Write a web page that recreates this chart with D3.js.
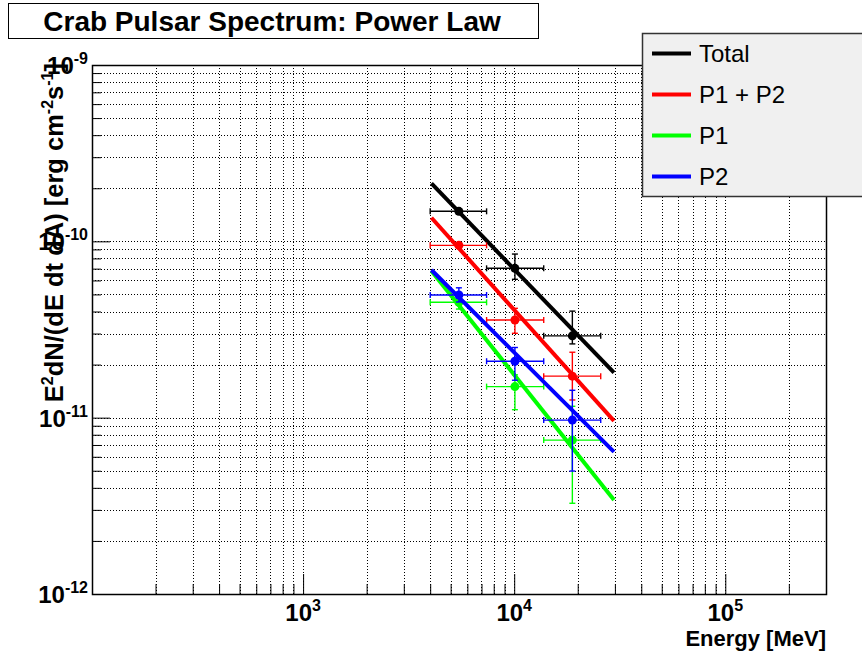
<!DOCTYPE html>
<html>
<head>
<meta charset="utf-8">
<script src="https://cdn.jsdelivr.net/npm/d3@7"></script>
<style>
body { margin: 0; background: #fff; }
svg { display: block; font-family: "Liberation Sans", Arial, sans-serif; }
</style>
</head>
<body>
<script>
// energy bins (MeV)
const binLow    = [4000, 7400, 13800];
const binHigh   = [7400, 13800, 25700];
const binCenter = [5470, 10080, 18860];

// E^2 dN/dE points with upper / lower error
const totalFlux  = [1.48e-10, 7.03e-11, 2.91e-11];
const totalErrHi = [1.53e-10, 8.47e-11, 4.02e-11];
const totalErrLo = [1.43e-10, 6.09e-11, 2.62e-11];

const p12Flux  = [9.49e-11, 3.58e-11, 1.72e-11];
const p12ErrHi = [9.80e-11, 4.17e-11, 2.35e-11];
const p12ErrLo = [9.20e-11, 3.01e-11, 1.26e-11];

const p1Flux  = [4.51e-11, 1.50e-11, 7.46e-12];
const p1ErrHi = [4.90e-11, 1.75e-11, 1.16e-11];
const p1ErrLo = [4.13e-11, 1.11e-11, 3.27e-12];

const p2Flux  = [4.96e-11, 2.09e-11, 9.69e-12];
const p2ErrHi = [5.45e-11, 2.50e-11, 1.43e-11];
const p2ErrLo = [4.53e-11, 1.63e-11, 4.98e-12];

// power law fits, value at both ends of fitRange
const fitRange = [4055, 29700];
const totalFit = [2.13e-10, 1.80e-11];
const p12Fit   = [1.36e-10, 9.6e-12];
const p1Fit    = [6.79e-11, 3.41e-12];
const p2Fit    = [6.88e-11, 6.4e-12];

const seriesNames = ["Total", "P1 + P2", "P1", "P2"];
const xMajorTicks = [1e3, 1e4, 1e5];
const xTickLabels = ["3", "4", "5"];
const yMajorTicks = [1e-12, 1e-11, 1e-10, 1e-9];
const yTickLabels = ["-12", "-11", "-10", "-9"];

const colors = ["#000000", "#ff0000", "#00ff00", "#0000ff"];

const series = [
    {name: seriesNames[0], color: colors[0], flux: totalFlux, hi: totalErrHi, lo: totalErrLo, fit: totalFit},
    {name: seriesNames[1], color: colors[1], flux: p12Flux, hi: p12ErrHi, lo: p12ErrLo, fit: p12Fit},
    {name: seriesNames[2], color: colors[2], flux: p1Flux, hi: p1ErrHi, lo: p1ErrLo, fit: p1Fit},
    {name: seriesNames[3], color: colors[3], flux: p2Flux, hi: p2ErrHi, lo: p2ErrLo, fit: p2Fit}
];

drawChart(series);

function drawChart(series){
    const margin = {top: 65, right: 36, bottom: 57, left: 92},
        width  = 862 - margin.left - margin.right,
        height = 651 - margin.top - margin.bottom;

    const svg = d3.select("body")
        .append("svg")
        .attr("width", 862)
        .attr("height", 651);

    const chart = svg.append("g")
        .attr("transform", "translate(" + margin.left + "," + margin.top + ")");

    const xScale = d3.scaleLog().domain([100, 3e5]).range([0, width]);
    const yScale = d3.scaleLog().domain([1e-12, 1e-9]).range([height, 0]);

    const isMajor = v => Math.abs(Math.log10(v) - Math.round(Math.log10(v))) < 1e-6;
    const px = v => Math.round(v) + 0.5;

    // dotted grid
    const grid = chart.append("g")
        .attr("stroke", "#000")
        .attr("stroke-width", 1)
        .attr("stroke-dasharray", "1,2")
        .attr("shape-rendering", "crispEdges");

    grid.selectAll(".vgrid")
        .data(xScale.ticks())
        .enter()
        .append("line")
        .attr("class", "vgrid")
        .attr("x1", d => px(xScale(d)))
        .attr("x2", d => px(xScale(d)))
        .attr("y1", 0)
        .attr("y2", height);

    grid.selectAll(".hgrid")
        .data(yScale.ticks())
        .enter()
        .append("line")
        .attr("class", "hgrid")
        .attr("x1", 0)
        .attr("x2", width)
        .attr("y1", d => px(yScale(d)))
        .attr("y2", d => px(yScale(d)));

    // ticks (inside the frame)
    const xMinor = xScale.ticks().filter(d => !isMajor(d));
    const yMinor = yScale.ticks().filter(d => !isMajor(d));

    [[xMajorTicks, 20], [xMinor, 10]].forEach(function(t){
        chart.append("g")
            .attr("transform", "translate(0," + height + ")")
            .call(d3.axisBottom(xScale).tickValues(t[0]).tickSize(-t[1]).tickFormat(""))
            .call(g => g.select(".domain").remove());
    });
    [[yMajorTicks, 18], [yMinor, 9]].forEach(function(t){
        chart.append("g")
            .call(d3.axisLeft(yScale).tickValues(t[0]).tickSize(-t[1]).tickFormat(""))
            .call(g => g.select(".domain").remove());
    });

    // frame
    chart.append("rect")
        .attr("x", 0.5)
        .attr("y", 0.5)
        .attr("width", width)
        .attr("height", height)
        .attr("fill", "none")
        .attr("stroke", "#000")
        .attr("stroke-width", 1.5);

    // tick labels
    const xl = chart.append("g")
        .selectAll(".xlabel")
        .data(xMajorTicks)
        .enter()
        .append("text")
        .attr("class", "xlabel")
        .attr("x", d => xScale(d))
        .attr("y", height + 27)
        .attr("text-anchor", "middle")
        .attr("font-weight", "bold")
        .attr("font-size", "24px");
    xl.append("tspan").text("10");
    xl.append("tspan").attr("dy", -10).attr("font-size", "16px").text((d, i) => xTickLabels[i]);

    const yl = chart.append("g")
        .selectAll(".ylabel")
        .data(yMajorTicks)
        .enter()
        .append("text")
        .attr("class", "ylabel")
        .attr("x", -4)
        .attr("y", d => yScale(d) + 9)
        .attr("text-anchor", "end")
        .attr("font-weight", "bold")
        .attr("font-size", "24px");
    yl.append("tspan").text("10");
    yl.append("tspan").attr("dy", -10).attr("font-size", "16px").text((d, i) => yTickLabels[i]);

    // axis titles
    svg.append("text")
        .attr("x", margin.left + width)
        .attr("y", 646)
        .attr("text-anchor", "end")
        .attr("font-weight", "bold")
        .attr("font-size", "22px")
        .text("Energy [MeV]");

    const yt = svg.append("text")
        .attr("transform", "translate(63,63) rotate(-90)")
        .attr("text-anchor", "end")
        .attr("font-weight", "bold")
        .attr("font-size", "25.5px");
    yt.append("tspan").text("E");
    yt.append("tspan").attr("dy", -10).attr("font-size", "16px").text("2");
    yt.append("tspan").attr("dy", 10).text("dN/(dE dt dA) [erg cm");
    yt.append("tspan").attr("dy", -10).attr("font-size", "16px").text("-2");
    yt.append("tspan").attr("dy", 10).text("s");
    yt.append("tspan").attr("dy", -10).attr("font-size", "16px").text("-1");
    yt.append("tspan").attr("dy", 10).text("]");

    // points with error bars, then the fit line
    const cap = 3;
    series.forEach(function(s){
        const g = chart.append("g").attr("stroke", s.color).attr("fill", s.color);
        const pts = binCenter.map((e, i) => ({e: e, lo: binLow[i], hi: binHigh[i], f: s.flux[i], fh: s.hi[i], fl: s.lo[i]}));

        const eb = g.selectAll(".err")
            .data(pts)
            .enter()
            .append("g")
            .attr("class", "err")
            .attr("stroke-width", 1.4);
        eb.append("line")
            .attr("x1", d => xScale(d.lo)).attr("x2", d => xScale(d.hi))
            .attr("y1", d => yScale(d.f)).attr("y2", d => yScale(d.f));
        eb.append("line")
            .attr("x1", d => xScale(d.lo)).attr("x2", d => xScale(d.lo))
            .attr("y1", d => yScale(d.f) - cap).attr("y2", d => yScale(d.f) + cap);
        eb.append("line")
            .attr("x1", d => xScale(d.hi)).attr("x2", d => xScale(d.hi))
            .attr("y1", d => yScale(d.f) - cap).attr("y2", d => yScale(d.f) + cap);
        eb.append("line")
            .attr("x1", d => xScale(d.e)).attr("x2", d => xScale(d.e))
            .attr("y1", d => yScale(d.fh)).attr("y2", d => yScale(d.fl));
        eb.append("line")
            .attr("x1", d => xScale(d.e) - cap).attr("x2", d => xScale(d.e) + cap)
            .attr("y1", d => yScale(d.fh)).attr("y2", d => yScale(d.fh));
        eb.append("line")
            .attr("x1", d => xScale(d.e) - cap).attr("x2", d => xScale(d.e) + cap)
            .attr("y1", d => yScale(d.fl)).attr("y2", d => yScale(d.fl));

        g.selectAll(".marker")
            .data(pts)
            .enter()
            .append("circle")
            .attr("class", "marker")
            .attr("cx", d => xScale(d.e))
            .attr("cy", d => yScale(d.f))
            .attr("r", 4.5)
            .attr("stroke", "none");

        g.append("line")
            .attr("x1", xScale(fitRange[0]))
            .attr("y1", yScale(s.fit[0]))
            .attr("x2", xScale(fitRange[1]))
            .attr("y2", yScale(s.fit[1]))
            .attr("stroke-width", 4);
    });

    // title box
    svg.append("rect")
        .attr("x", 8.5).attr("y", 3.5)
        .attr("width", 530).attr("height", 35)
        .attr("fill", "#fff")
        .attr("stroke", "#000")
        .attr("stroke-width", 1);
    svg.append("text")
        .attr("x", 272)
        .attr("y", 31)
        .attr("text-anchor", "middle")
        .attr("font-weight", "bold")
        .attr("font-size", "28px")
        .text("Crab Pulsar Spectrum: Power Law");

    // legend
    const legend = svg.append("g");
    legend.append("rect")
        .attr("x", 642.5).attr("y", 33.5)
        .attr("width", 230).attr("height", 163)
        .attr("fill", "#f0f0f0")
        .attr("stroke", "#333")
        .attr("stroke-width", 1.5);
    const item = legend.selectAll(".item")
        .data(series)
        .enter()
        .append("g")
        .attr("class", "item")
        .attr("transform", (d, i) => "translate(652," + (53.5 + i * 41) + ")");
    item.append("line")
        .attr("x1", 0).attr("x2", 39)
        .attr("stroke", d => d.color)
        .attr("stroke-width", 4);
    item.append("text")
        .attr("x", 47)
        .attr("y", 8.5)
        .attr("font-size", "24px")
        .attr("fill", "#000")
        .text(d => d.name);
}
</script>
</body>
</html>
